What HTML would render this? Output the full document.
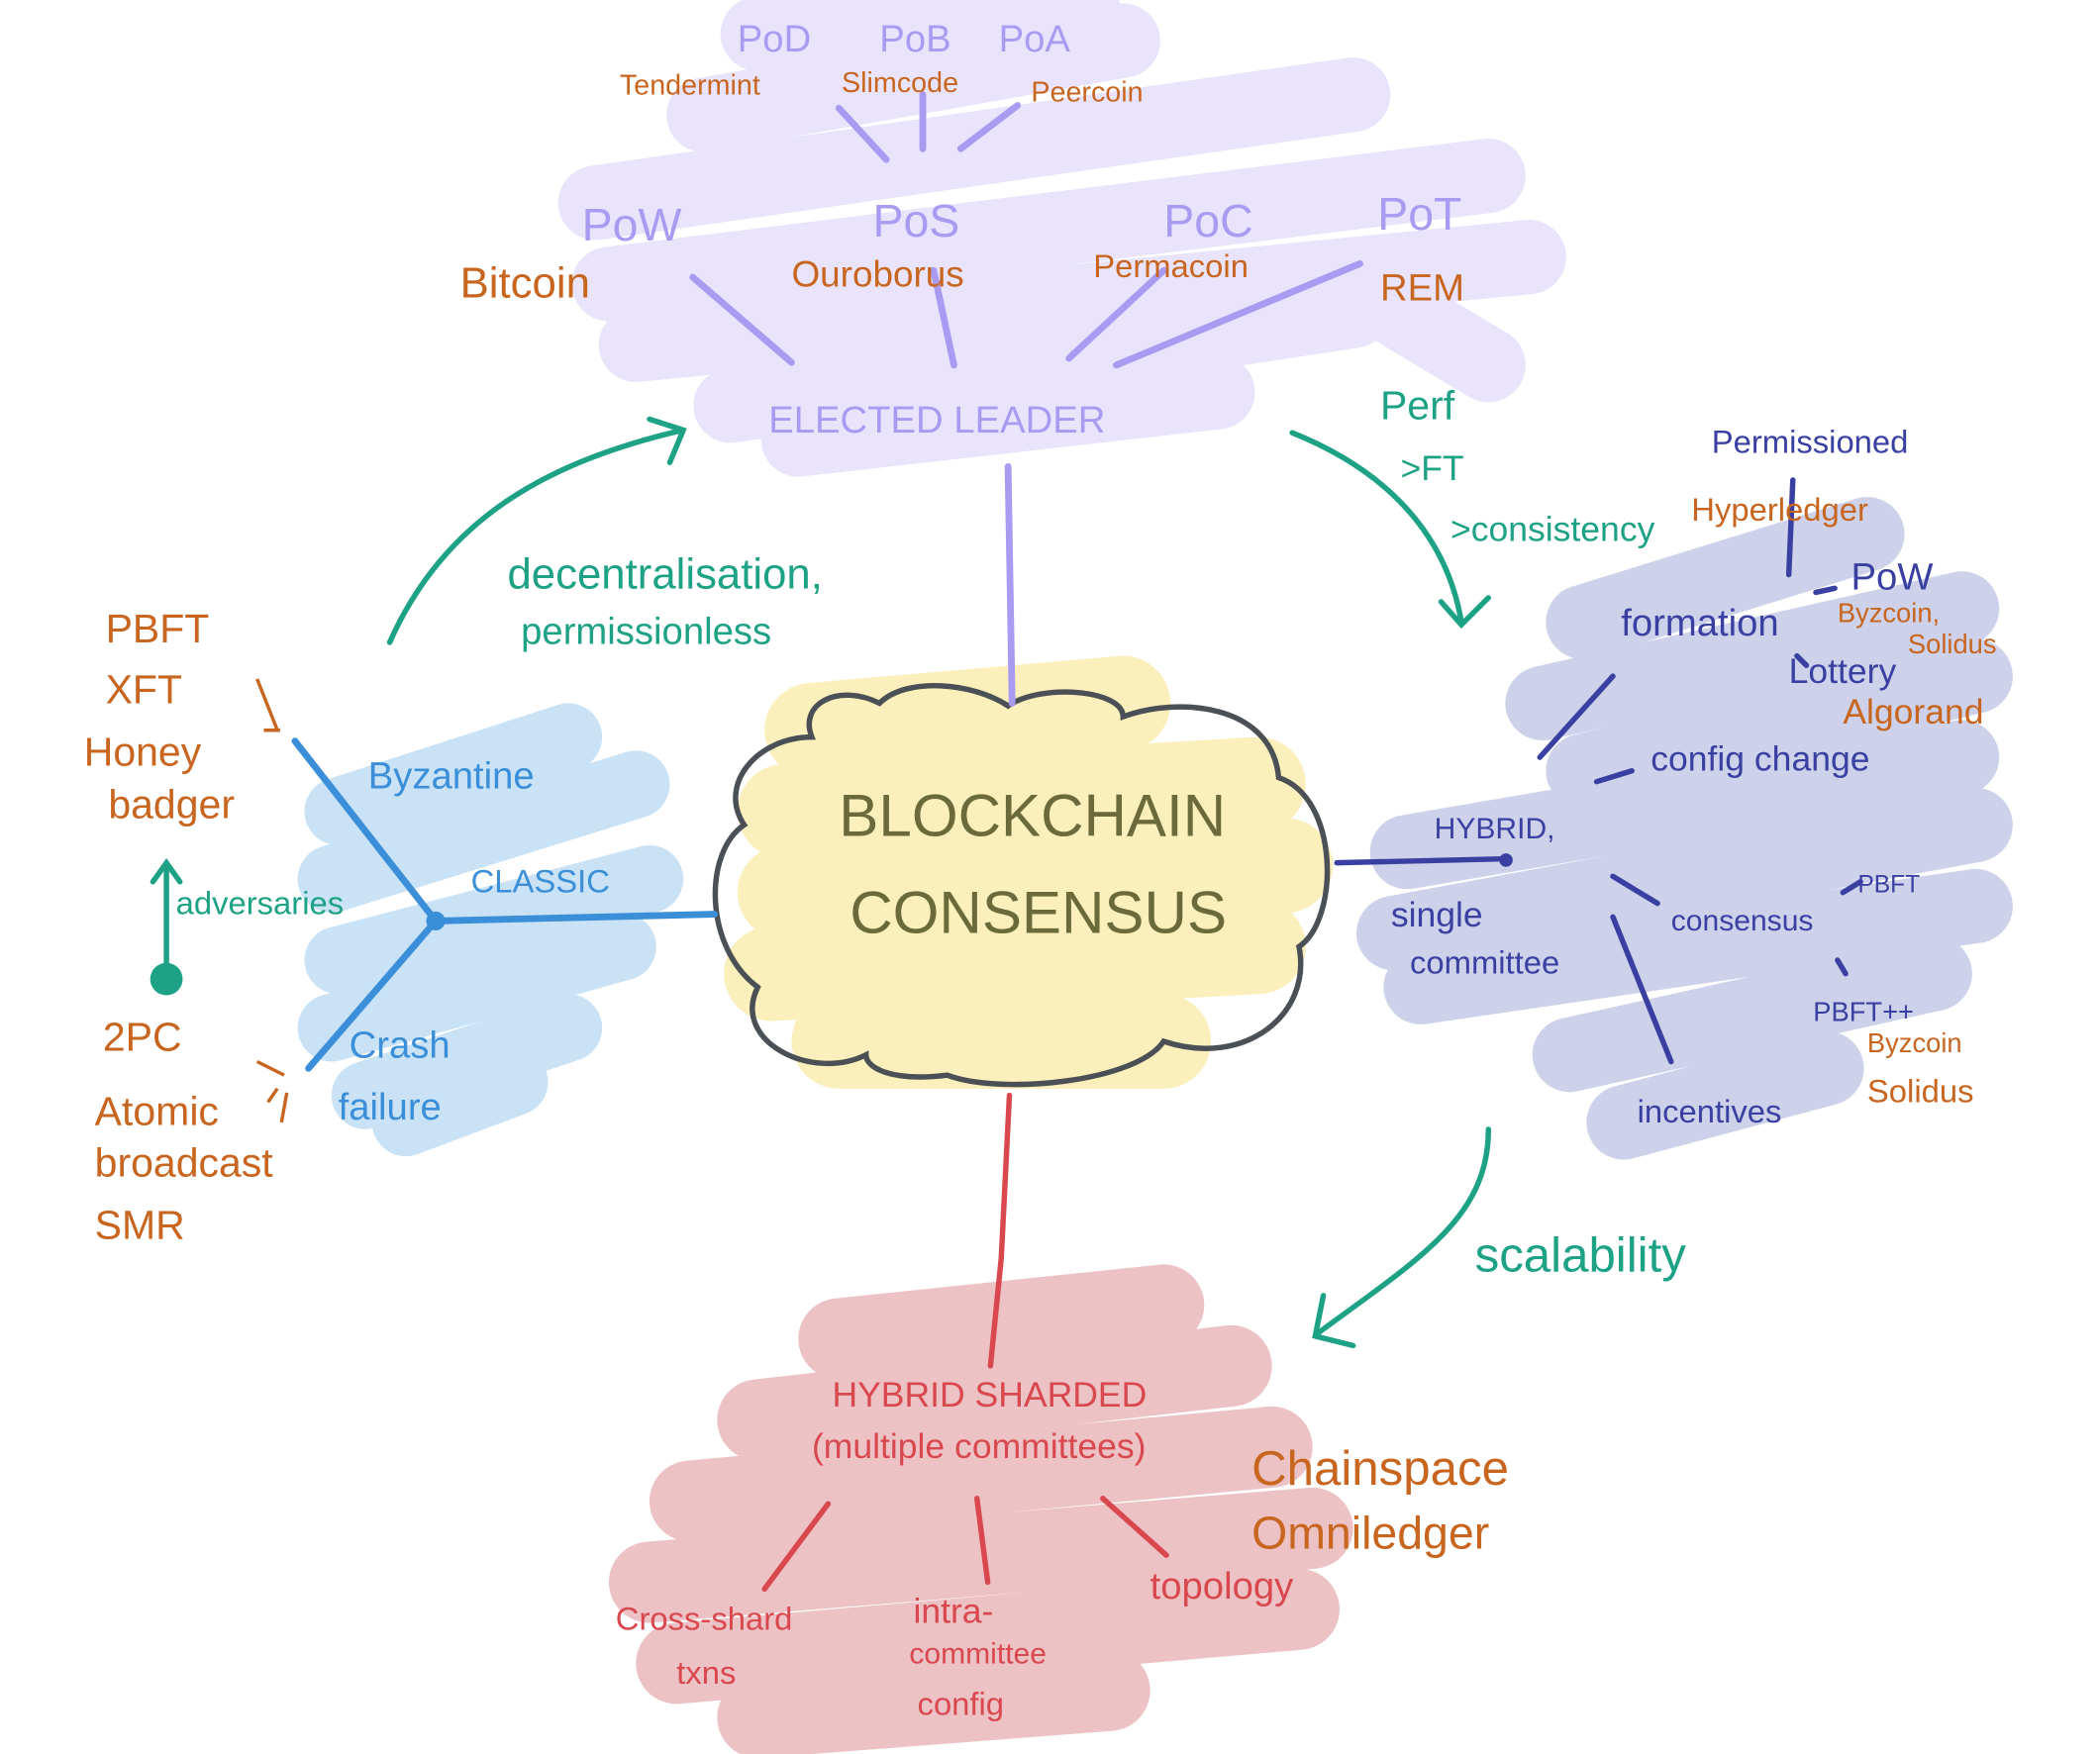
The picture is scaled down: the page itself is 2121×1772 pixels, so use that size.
<!DOCTYPE html>
<html><head><meta charset="utf-8"><style>
html,body{margin:0;padding:0;background:#fff;}
svg{display:block;}
text{font-family:"Liberation Sans",sans-serif;}
</style></head><body>
<svg width="2121" height="1772" viewBox="0 0 1552 1297" preserveAspectRatio="none" xmlns="http://www.w3.org/2000/svg">
<!-- purple blob -->
<g stroke="#e9e4fc" stroke-linecap="round" fill="none" stroke-width="55">
<path d="M560 25 L800 5 M520 85 L830 30 M440 150 L1000 70 M450 210 L1100 130 M470 255 L1130 190 M540 300 L1000 230 M590 325 L900 290 M1000 210 L1100 270"/>
</g>
<!-- blue blob -->
<g stroke="#cae2f6" stroke-linecap="round" fill="none" stroke-width="50">
<path d="M250 600 L420 545 M245 650 L470 580 M250 710 L480 650 M245 760 L460 700 M270 810 L420 760 M300 830 L380 800"/>
</g>
<!-- indigo blob -->
<g stroke="#cdd1ea" stroke-linecap="round" fill="none" stroke-width="55">
<path d="M1170 460 L1380 395 M1140 520 L1450 450 M1170 570 L1460 500 M1040 630 L1450 560 M1030 690 L1460 610 M1050 730 L1460 670 M1160 780 L1430 720 M1200 830 L1350 790"/>
</g>
<!-- red blob -->
<g stroke="#ecc2c5" stroke-linecap="round" fill="none" stroke-width="60">
<path d="M620 990 L860 965 M560 1050 L910 1010 M510 1110 L940 1070 M480 1170 L970 1130 M500 1230 L960 1190 M560 1270 L820 1250"/>
</g>
<!-- yellow cloud fill -->
<g stroke="#fbefbb" stroke-linecap="round" fill="none" stroke-width="70">
<path d="M600 540 L830 520 M580 600 L930 580 M580 660 L950 640 M570 720 L930 700 M620 770 L860 770"/>
</g>
<!-- cloud outline -->
<path d="M600 545 C590 520 620 505 650 520 C670 500 720 505 745 522 C770 505 830 510 830 530 C870 515 940 520 945 575 C990 590 990 680 960 700 C970 750 920 790 860 770 C840 800 740 810 700 795 C660 800 640 790 640 780 C600 800 540 770 560 730 C520 700 520 630 550 610 C530 580 560 545 600 545 Z" fill="none" stroke="#4a5055" stroke-width="4"/>
<!-- purple lines -->
<g stroke="#a99bf2" stroke-width="5" stroke-linecap="round" fill="none">
<path d="M745 345 L748 520 M512 205 L585 268 M690 200 L705 270 M860 200 L790 265 M1005 195 L825 270 M620 80 L655 118 M682 70 L682 110 M752 78 L710 110"/>
</g>
<g fill="#a99bf2" font-size="34">
<text x="430" y="178">PoW</text><text x="645" y="175">PoS</text><text x="860" y="175">PoC</text><text x="1018" y="170">PoT</text>
<text x="545" y="38" font-size="28">PoD</text><text x="650" y="38" font-size="28">PoB</text><text x="738" y="38" font-size="28">PoA</text>
<text x="568" y="320" font-size="28">ELECTED LEADER</text>
</g>
<g fill="#c8651f">
<text x="340" y="220" font-size="32">Bitcoin</text><text x="585" y="212" font-size="27">Ouroborus</text><text x="808" y="205" font-size="24">Permacoin</text><text x="1020" y="222" font-size="28">REM</text>
<text x="458" y="70" font-size="21">Tendermint</text><text x="622" y="68" font-size="21">Slimcode</text><text x="762" y="75" font-size="21">Peercoin</text>
</g>
<text x="620" y="618" font-size="44" fill="#6b6a3a">BLOCKCHAIN</text>
<text x="628" y="690" font-size="44" fill="#6b6a3a">CONSENSUS</text>
<!-- blue -->
<g stroke="#3a8fd8" stroke-width="5" stroke-linecap="round" fill="none">
<path d="M322 681 L528 676 M322 681 L218 548 M322 681 L228 790"/></g>
<circle cx="322" cy="681" r="7" fill="#3a8fd8"/>
<g fill="#3a8fd8" font-size="28"><text x="272" y="583">Byzantine</text><text x="348" y="660" font-size="24">CLASSIC</text><text x="258" y="782">Crash</text><text x="250" y="828">failure</text></g>
<g fill="#c8651f" font-size="30"><text x="78" y="475">PBFT</text><text x="78" y="520">XFT</text><text x="62" y="566">Honey</text><text x="80" y="605">badger</text><text x="76" y="777">2PC</text><text x="70" y="832">Atomic</text><text x="70" y="870">broadcast</text><text x="70" y="916">SMR</text></g>
<g stroke="#c8651f" stroke-width="2.5" fill="none"><path d="M190 502 L205 540 M195 540 L207 540 M190 785 L210 795 M205 805 L198 815 M212 808 L208 830"/></g>
<!-- green -->
<g stroke="#1ea285" stroke-width="4" stroke-linecap="round" fill="none">
<path d="M123 720 L123 642 M113 652 L123 638 L133 652"/>
<path d="M288 475 C330 380 410 340 505 318 M480 310 L505 318 L495 342"/>
<path d="M955 320 C1030 350 1070 400 1080 460 M1065 445 L1080 462 L1100 442"/>
<path d="M1100 835 C1100 900 1050 930 975 985 M978 958 L972 988 L1000 995"/>
</g>
<circle cx="123" cy="724" r="12" fill="#1ea285"/>
<g fill="#1ea285"><text x="130" y="676" font-size="24">adversaries</text><text x="375" y="435" font-size="32">decentralisation,</text><text x="385" y="476" font-size="28">permissionless</text>
<text x="1020" y="310" font-size="30">Perf</text><text x="1035" y="355" font-size="26">&gt;FT</text><text x="1072" y="400" font-size="26">&gt;consistency</text><text x="1090" y="940" font-size="36">scalability</text></g>
<!-- indigo -->
<g stroke="#3a3fa2" stroke-width="4" stroke-linecap="round" fill="none">
<path d="M988 638 L1115 635 M1138 560 L1192 500 M1180 578 L1206 570 M1192 648 L1225 668 M1192 678 L1235 785 M1325 355 L1322 425 M1342 438 L1356 435 M1328 485 L1335 492 M1362 660 L1375 652 M1358 710 L1364 720"/></g>
<circle cx="1113" cy="636" r="5" fill="#3a3fa2"/>
<g fill="#3a3fa2"><text x="1060" y="620" font-size="22">HYBRID,</text><text x="1028" y="685" font-size="26">single</text><text x="1042" y="720" font-size="24">committee</text>
<text x="1198" y="470" font-size="28">formation</text><text x="1220" y="570" font-size="26">config change</text><text x="1235" y="688" font-size="22">consensus</text><text x="1210" y="830" font-size="24">incentives</text>
<text x="1265" y="335" font-size="24">Permissioned</text><text x="1368" y="436" font-size="28">PoW</text><text x="1322" y="505" font-size="26">Lottery</text><text x="1373" y="660" font-size="18">PBFT</text><text x="1340" y="755" font-size="20">PBFT++</text></g>
<g fill="#c8651f"><text x="1250" y="385" font-size="24">Hyperledger</text><text x="1358" y="460" font-size="20">Byzcoin,</text><text x="1410" y="483" font-size="20">Solidus</text><text x="1362" y="535" font-size="26">Algorand</text><text x="1380" y="778" font-size="20">Byzcoin</text><text x="1380" y="815" font-size="24">Solidus</text>
<text x="925" y="1098" font-size="36">Chainspace</text><text x="925" y="1145" font-size="34">Omniledger</text></g>
<!-- red -->
<g stroke="#d9474f" stroke-width="4" stroke-linecap="round" fill="none">
<path d="M746 810 L740 930 L732 1010 M612 1112 L565 1175 M722 1108 L730 1170 M815 1108 L862 1150"/></g>
<g fill="#d9474f"><text x="615" y="1040" font-size="26">HYBRID SHARDED</text><text x="600" y="1078" font-size="26">(multiple committees)</text>
<text x="455" y="1205" font-size="24">Cross-shard</text><text x="500" y="1245" font-size="24">txns</text><text x="675" y="1200" font-size="26">intra-</text><text x="672" y="1230" font-size="22">committee</text><text x="678" y="1268" font-size="24">config</text><text x="850" y="1182" font-size="28">topology</text></g>
</svg>
</body></html>
